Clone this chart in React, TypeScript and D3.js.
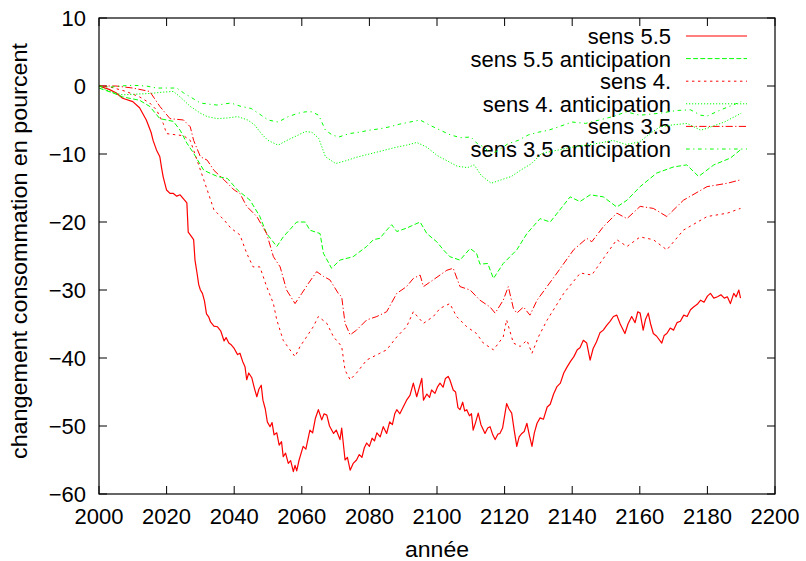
import React from "react";
import * as d3 from "d3";

// Projected change in consumption (%) by year, for each sensitivity scenario.
// Each entry is [year, percent change].
const sens55: [number, number][] = [
  [2000, 0], [2003, -0.5], [2005, -1], [2007, -1.8], [2010, -2.3], [2012, -3.2], [2014, -5],
  [2015.4, -6.8], [2016, -8], [2017, -9.4], [2018, -10.4], [2018.5, -12], [2019, -13.4],
  [2020, -15.3], [2021, -15.8], [2022, -15.8], [2023, -16.2], [2024, -16], [2025, -16.6],
  [2026, -17.2], [2026.4, -21.5], [2027, -21.9], [2028, -22.6], [2028.4, -25.6], [2029, -27.5],
  [2029.5, -29.2], [2030, -30], [2030.6, -30.5], [2031.2, -31.6], [2031.8, -33.5], [2032.5, -34],
  [2033, -34.7], [2034, -35.3], [2035, -35.4], [2036, -36], [2037, -37.5], [2037.6, -37],
  [2038.4, -37.8], [2039, -38], [2040, -38.6], [2041, -39.5], [2041.7, -39.3], [2042.5, -40.5],
  [2043.2, -41.3], [2043.7, -43.2], [2044.3, -42.2], [2045.2, -42.9], [2046, -44.5],
  [2046.7, -45.7], [2047.3, -44.6], [2048, -44], [2048.5, -46.2], [2049.2, -47.5],
  [2049.8, -49.4], [2050.6, -50.1], [2051.2, -49.5], [2051.8, -51.3], [2052.6, -51],
  [2053.3, -52.8], [2054, -52.3], [2054.5, -54.5], [2055.2, -54], [2056, -55.5],
  [2056.7, -55.1], [2057.5, -56.7], [2058, -55.8], [2058.5, -56.6], [2059.2, -55],
  [2060.4, -53], [2061.2, -53.4], [2062.4, -50.6], [2063.2, -51], [2064, -48.9],
  [2064.9, -47.6], [2065.9, -49.1], [2066.6, -48.2], [2067.4, -48.4], [2068.2, -50],
  [2069.4, -51.1], [2070.2, -50.6], [2071.3, -52], [2071.8, -50.3], [2072.8, -55],
  [2073.5, -54.6], [2074.3, -56.5], [2075.2, -55.5], [2076.2, -55], [2077, -54.2],
  [2077.8, -54.6], [2078.5, -53.2], [2079.2, -52.5], [2080, -53], [2080.8, -51.8],
  [2081.5, -52.2], [2082.2, -51], [2083.2, -51.6], [2084.1, -50.1], [2085.1, -51.1],
  [2086, -49.4], [2086.8, -49.8], [2087.5, -48.2], [2088.1, -47.6], [2089, -48.2],
  [2090, -47.2], [2091, -46.2], [2092, -45.5], [2093, -43.7], [2094, -45.7], [2095.5, -43],
  [2096, -46.2], [2097, -45.3], [2097.8, -45.8], [2098.4, -44.7], [2099.4, -45.2],
  [2100.2, -44.2], [2100.9, -43.7], [2101.8, -44.3], [2102.5, -43], [2103.3, -42.7],
  [2103.8, -43.2], [2104.8, -44.7], [2105.5, -45], [2106.2, -47.3], [2106.8, -47.6],
  [2107.6, -46.5], [2108.2, -47.8], [2108.8, -47.6], [2109.6, -48.5], [2110.2, -48.2],
  [2110.7, -50.6], [2111.4, -49.5], [2112.2, -48.1], [2113, -49.8], [2114.2, -51.1],
  [2115, -50.3], [2115.7, -50.1], [2116.5, -51.3], [2117.2, -52], [2118, -51.2],
  [2118.6, -51.1], [2119.4, -50.3], [2120.6, -46.7], [2121.3, -47.5], [2122.1, -48.1],
  [2122.8, -50.5], [2123.6, -53], [2124.3, -51.6], [2125.1, -51.1], [2125.8, -50.8],
  [2126.6, -49.6], [2127.3, -51.3], [2128.1, -53], [2128.8, -51], [2129.6, -49.6],
  [2130.5, -48.8], [2131.5, -49], [2132.6, -47.2], [2133.5, -46.8], [2134.5, -45.3],
  [2135.5, -44.2], [2136.5, -43.7], [2137.5, -42.2], [2138.5, -41.3], [2139.5, -40.5],
  [2140.5, -39.8], [2141.5, -38.8], [2142.3, -38.5], [2143.3, -37.4], [2144.3, -37.8],
  [2145.3, -40.3], [2146.2, -38.6], [2147.2, -37.6], [2148.2, -36.3], [2149.2, -35.9],
  [2150.2, -35.2], [2151.2, -34.6], [2152.2, -33.9], [2153.2, -33.7], [2154.2, -35],
  [2155.6, -36.4], [2156.5, -35], [2157.6, -33.9], [2158.6, -34.8], [2159.4, -33.2],
  [2160.1, -33.4], [2161, -35.9], [2161.7, -34.3], [2162.5, -33.4], [2163.2, -35],
  [2164, -36.4], [2165, -36.8], [2166.5, -37.8], [2167.2, -36.7], [2168, -36.4],
  [2169, -35.6], [2170, -35.9], [2171, -34.8], [2172, -34.6], [2173, -33.7], [2174, -33.9],
  [2175, -32.9], [2175.9, -32.5], [2177, -32.1], [2178, -31.5], [2179, -31.8], [2180, -30.9],
  [2180.9, -30.5], [2181.9, -31.2], [2183, -31], [2184, -30.7], [2185, -31.2], [2185.9, -31],
  [2186.8, -32], [2187.8, -30.5], [2188.5, -31], [2189.3, -30], [2189.8, -31.2],
];

const sens55Anticipation: [number, number][] = [
  [2000, -0.3], [2004, -1], [2007, -1.6], [2012, -2.1], [2015, -3], [2018, -4.8],
  [2022, -5.2], [2024, -6.5], [2026, -8.4], [2028, -9.9], [2031, -12.4], [2035, -13.3],
  [2038, -13.6], [2041, -15.3], [2044.7, -16.8], [2047.6, -19.2], [2049.6, -21.7],
  [2052.6, -23.6], [2054.5, -22.2], [2058.5, -20], [2061, -20], [2062.4, -21.2],
  [2065.4, -21.7], [2066.4, -24.6], [2068.8, -26.8], [2071.3, -25.6], [2075.2, -25.1],
  [2079.2, -23.6], [2081.2, -22.6], [2083.1, -22.4], [2085.1, -21.2], [2086.6, -20.4],
  [2088.1, -21.4], [2091, -20.9], [2095, -20], [2097, -21.7], [2099.9, -22.9],
  [2101.9, -24.1], [2103.8, -25.1], [2106.8, -25.6], [2109.8, -23.9], [2111.7, -24.6],
  [2112.7, -26.2], [2115, -26.1], [2116.7, -28.3], [2119.6, -26.1], [2123.6, -24.1],
  [2126.6, -21.7], [2130.5, -19.5], [2133.5, -20], [2139.4, -16.3], [2142.3, -17],
  [2145.3, -16], [2149.2, -16.3], [2153.2, -17.8], [2156.2, -16.8], [2160.1, -14.8],
  [2165, -12.8], [2170, -11.9], [2173.9, -11.6], [2177.4, -13.3], [2181.9, -11.6],
  [2186.8, -10.6], [2190, -9.3],
];

const sens4: [number, number][] = [
  [2000, 0], [2003, -0.1], [2008, -0.8], [2012, -1.6], [2015, -2.5], [2017, -3.5],
  [2019, -5.5], [2020, -7], [2023, -7.2], [2025, -7.3], [2027, -8], [2029, -10.9],
  [2031, -13.8], [2034, -18.2], [2037, -19.7], [2039, -20.9], [2041.7, -21.9],
  [2043.7, -24.6], [2045.6, -26.6], [2047.6, -26.6], [2049.6, -29.5], [2051.6, -32],
  [2052.6, -34.4], [2054.5, -37.4], [2056.5, -38.8], [2058, -39.8], [2059.5, -38.3],
  [2061.4, -36.9], [2063.4, -35.4], [2064.9, -33.9], [2067.4, -34.9], [2069.4, -36.9],
  [2071.8, -38.3], [2072.8, -41.8], [2074.3, -43.2], [2076.2, -42.2], [2079.2, -40.3],
  [2083.1, -39.3], [2085.1, -38.8], [2088.1, -36.9], [2091, -35.4], [2093, -33.2],
  [2096, -34.9], [2098.9, -33.9], [2100.9, -32.7], [2103.8, -32], [2105.8, -33.9],
  [2108.8, -35.4], [2111.7, -36.4], [2113.7, -37.8], [2116.7, -38.8], [2119.6, -36.9],
  [2120.6, -34.4], [2122.6, -37.8], [2124.6, -38.3], [2126.6, -37.4], [2128.1, -39.3],
  [2130, -36.9], [2132.6, -34.4], [2137.5, -30.5], [2142.4, -27.5], [2145.8, -27.8],
  [2150.3, -24.6], [2153.2, -22.6], [2156.2, -23.6], [2160.1, -22.2], [2164, -22.6],
  [2168, -24.1], [2172.9, -21.2], [2179.9, -19.2], [2185.9, -18.7], [2189.8, -18],
];

const sens4Anticipation: [number, number][] = [
  [2000, 0], [2003, -0.8], [2007, -1.3], [2011, -1.2], [2015, -1.1], [2019, -0.9],
  [2022, -0.8], [2024, -1.6], [2027, -3], [2030, -4], [2032, -4.5], [2035, -4.8],
  [2038, -4.7], [2041, -4.5], [2044, -5], [2046, -5.7], [2048, -7], [2050, -8],
  [2053, -8.7], [2056, -7.9], [2059, -7.2], [2061, -6.7], [2063, -6.8], [2065, -7.7],
  [2067, -10.4], [2070, -11.4], [2073, -11], [2076, -10.5], [2080, -10], [2084, -9.5],
  [2088, -9], [2091, -8.7], [2094, -8.3], [2097, -9], [2100, -10.2], [2103, -11],
  [2106, -11.8], [2109, -12], [2111, -11.6], [2113, -13.1], [2116, -14.3], [2119, -13.8],
  [2122, -13.3], [2125, -12.3], [2128, -11.4], [2131, -9.9], [2134, -9.6], [2137, -9.3],
  [2140, -9], [2144, -8.7], [2148, -8.4], [2152, -8], [2156, -8.6], [2160, -8.2],
  [2163, -7], [2166, -6], [2170, -5.7], [2174, -5.5], [2178, -6.5], [2180, -6.2],
  [2185, -5.3], [2190, -4],
];

const sens35: [number, number][] = [
  [2000, 0], [2005, 0], [2010, -0.3], [2015, -0.8], [2018, -3], [2021, -4.8], [2025, -5],
  [2027, -6], [2028, -8], [2030, -10.4], [2032, -10.9], [2034, -12.4], [2037, -13.8],
  [2040, -15.3], [2041.7, -15.8], [2043.7, -17.7], [2046.7, -19.2], [2049.6, -21.7],
  [2051.6, -25.1], [2053.6, -26.6], [2055.5, -30], [2058, -32], [2060, -30.5], [2062, -29],
  [2064.4, -27.3], [2066.4, -28], [2068.3, -28.5], [2070.8, -30.5], [2071.8, -31],
  [2072.8, -34.9], [2074.3, -36.6], [2076.2, -35.9], [2079.2, -34.4], [2082.2, -33.9],
  [2085.1, -33.2], [2088.1, -30.5], [2091, -29.5], [2093, -28.3], [2095, -27.8],
  [2096, -29.5], [2098.9, -28.5], [2102.9, -27.1], [2104.8, -26.8], [2106.8, -29.5],
  [2109.8, -30], [2112.7, -31.5], [2115.7, -32.5], [2117.2, -33.4], [2119.6, -31.5],
  [2121.1, -29.5], [2122.6, -32.7], [2123.6, -33.4], [2125.6, -32.5], [2127.5, -33.7],
  [2129.6, -31.5], [2135.5, -27.5], [2140.4, -24.1], [2144.3, -22.4], [2145.8, -22.9],
  [2149.2, -20.7], [2153.2, -18.7], [2156.2, -19.5], [2160.1, -17.7], [2164, -18],
  [2168, -19.2], [2172.9, -16.8], [2179.9, -14.8], [2185.9, -14.3], [2189.8, -13.8],
];

const sens35Anticipation: [number, number][] = [
  [2000, 0], [2003, -0.2], [2006, 0], [2010, 0.1], [2014, 0], [2017, -0.3], [2020, -0.3],
  [2023, -0.3], [2025, -1], [2027, -1.6], [2030, -2.5], [2033, -2.7], [2035, -2.8],
  [2039, -2.5], [2042, -3], [2045, -3.3], [2048, -4.3], [2050, -5], [2053, -5.3],
  [2056, -4.5], [2059, -4], [2061, -3.8], [2063, -3.8], [2065, -4.3], [2067, -6.5],
  [2069, -7.2], [2071, -7.5], [2074, -7], [2077, -6.8], [2080, -6.5], [2083, -6.3],
  [2086, -6], [2089, -5.6], [2092, -5.3], [2095, -5], [2098, -5.8], [2101, -6.5],
  [2104, -7.2], [2107, -7.6], [2110, -7.5], [2112, -8.5], [2114, -9], [2116, -10],
  [2118, -9.5], [2121, -8.5], [2124, -8], [2127, -7.2], [2130, -6.8], [2133, -6.5],
  [2136, -6], [2140, -5.3], [2144, -5.5], [2148, -5], [2152, -4.5], [2156, -3.8],
  [2160, -4.3], [2166, -4], [2171, -3.6], [2175, -3.5], [2178, -4.3], [2180, -4.4],
  [2184, -3.5], [2187, -2.9], [2190, -2.3],
];

const seriesNames = [
  "sens 5.5",
  "sens 5.5 anticipation",
  "sens 4.",
  "sens 4. anticipation",
  "sens 3.5",
  "sens 3.5 anticipation",
];
const seriesData = [sens55, sens55Anticipation, sens4, sens4Anticipation, sens35, sens35Anticipation];

const xTicks = [2000, 2020, 2040, 2060, 2080, 2100, 2120, 2140, 2160, 2180, 2200];
const yTicks = [10, 0, -10, -20, -30, -40, -50, -60];

// gnuplot-like line types: colour and dash pattern
const lineStyles = [
  { color: "#ff0000", dash: "none", width: 1.2 },
  { color: "#00ff00", dash: "4.8,2.4", width: 1 },
  { color: "#ff0000", dash: "2.4,3.6", width: 1 },
  { color: "#00ff00", dash: "1.2,1.8", width: 1 },
  { color: "#ff0000", dash: "7.2,2.4,1.2,2.4", width: 1 },
  { color: "#00ff00", dash: "3.6,3.6,1.2,3.6", width: 1 },
];

const W = 806;
const H = 561;
const plot = { left: 99, right: 775, top: 18, bottom: 494 };
const FONT = "'Liberation Sans', Arial, Helvetica, sans-serif";
const FS = 22;

export default function App() {
  const x = d3.scaleLinear().domain([2000, 2200]).range([plot.left, plot.right]);
  const y = d3.scaleLinear().domain([-60, 10]).range([plot.bottom, plot.top]);
  const line = d3
    .line<[number, number]>()
    .x((d) => x(d[0]))
    .y((d) => y(d[1]));

  const tick = 8;
  const fmt = (v: number) => (v < 0 ? "\u2212" + Math.abs(v) : String(v));

  const legendRight = 671;
  const legendLineX0 = 686;
  const legendLineX1 = 747;
  const legendTop = 36;
  const legendStep = 22.6;

  return (
    <svg
      width={W}
      height={H}
      style={{ position: "absolute", left: 0, top: 0, background: "#fff" }}
      fontFamily={FONT}
      fontSize={FS}
    >
      <rect width={W} height={H} fill="#fff" />

      {/* tick marks on all four sides, pointing inward */}
      <g stroke="#000" strokeWidth={1}>
        {xTicks.map((t) => (
          <g key={"xt" + t}>
            <line x1={x(t)} x2={x(t)} y1={plot.bottom} y2={plot.bottom - tick} />
            <line x1={x(t)} x2={x(t)} y1={plot.top} y2={plot.top + tick} />
          </g>
        ))}
        {yTicks.map((t) => (
          <g key={"yt" + t}>
            <line x1={plot.left} x2={plot.left + tick} y1={y(t)} y2={y(t)} />
            <line x1={plot.right} x2={plot.right - tick} y1={y(t)} y2={y(t)} />
          </g>
        ))}
      </g>

      {/* tick labels */}
      {xTicks.map((t) => (
        <text key={"xl" + t} x={x(t)} y={524} textAnchor="middle" fill="#000">
          {t}
        </text>
      ))}
      {yTicks.map((t) => (
        <text key={"yl" + t} x={86} y={y(t) + 8} textAnchor="end" fill="#000">
          {fmt(t)}
        </text>
      ))}

      {/* axis titles */}
      <text x={437} y={557} textAnchor="middle" fill="#000" textLength={64} lengthAdjust="spacingAndGlyphs">
        année
      </text>
      <text
        transform={`translate(27, ${(plot.top + plot.bottom) / 2 - 5}) rotate(-90)`}
        textAnchor="middle"
        fill="#000"
        textLength={416}
        lengthAdjust="spacingAndGlyphs"
      >
        changement consommation en pourcent
      </text>

      {/* legend */}
      {seriesNames.map((name, i) => {
        const cy = legendTop + i * legendStep;
        const s = lineStyles[i];
        return (
          <g key={"lg" + i}>
            <text x={legendRight} y={cy + 8} textAnchor="end" fill="#000">
              {name}
            </text>
            <line
              x1={legendLineX0}
              x2={legendLineX1}
              y1={cy}
              y2={cy}
              stroke={s.color}
              strokeWidth={s.width}
              strokeDasharray={s.dash}
            />
          </g>
        );
      })}

      {/* data series */}
      {seriesData.map((data, i) => {
        const s = lineStyles[i];
        return (
          <path
            key={"s" + i}
            d={line(data) || ""}
            fill="none"
            stroke={s.color}
            strokeWidth={s.width}
            strokeDasharray={s.dash}
            strokeLinejoin="round"
          />
        );
      })}

      {/* plot frame */}
      <rect
        x={plot.left}
        y={plot.top}
        width={plot.right - plot.left}
        height={plot.bottom - plot.top}
        fill="none"
        stroke="#000"
        strokeWidth={1.2}
      />
    </svg>
  );
}
